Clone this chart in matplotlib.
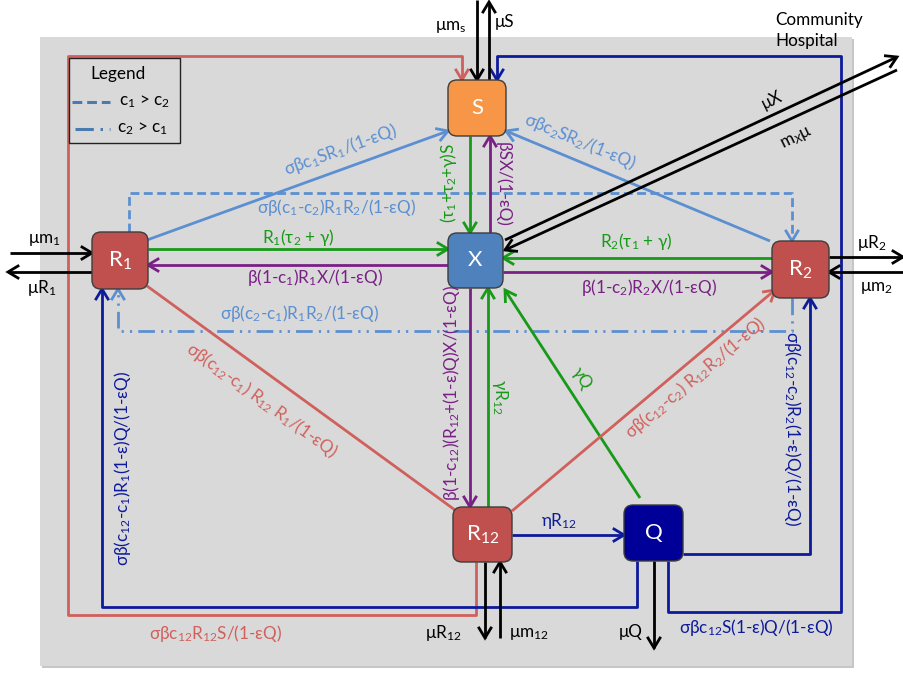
import math
import matplotlib
matplotlib.use("Agg")
import matplotlib.pyplot as plt
from matplotlib.patches import FancyBboxPatch, Rectangle

plt.rcParams['font.family'] = ['Lato', 'DejaVu Sans']
plt.rcParams['mathtext.fontset'] = 'custom'
plt.rcParams['mathtext.rm'] = 'Lato'
plt.rcParams['mathtext.it'] = 'Lato:italic'
plt.rcParams['mathtext.bf'] = 'Lato:bold'

# compartments of the model
compartments = ['S', 'X', 'R$_1$', 'R$_2$', 'R$_{12}$', 'Q']

# transition rates, grouped by colour
green_rates = ['(τ$_1$+τ$_2$+γ)S', 'R$_1$(τ$_2$ + γ)', 'R$_2$(τ$_1$ + γ)', 'γR$_{12}$', 'γQ']
purple_rates = ['βSX/(1-εQ)', 'β(1-c$_1$)R$_1$X/(1-εQ)', 'β(1-c$_2$)R$_2$X/(1-εQ)',
                'β(1-c$_{12}$)(R$_{12}$+(1-ε)Q)X/(1-εQ)']
lightblue_rates = ['σβc$_1$SR$_1$/(1-εQ)', 'σβc$_2$SR$_2$/(1-εQ)',
                   'σβ(c$_1$-c$_2$)R$_1$R$_2$/(1-εQ)', 'σβ(c$_2$-c$_1$)R$_1$R$_2$/(1-εQ)']
red_rates = ['σβ(c$_{12}$-c$_1$) R$_{12}$ R$_1$/(1-εQ)', 'σβ(c$_{12}$-c$_2$) R$_{12}$R$_2$/(1-εQ)',
             'σβc$_{12}$R$_{12}$S/(1-εQ)']
navy_rates = ['ηR$_{12}$', 'σβ(c$_{12}$-c$_1$)R$_1$(1-ε)Q/(1-εQ)',
              'σβ(c$_{12}$-c$_2$)R$_2$(1-ε)Q/(1-εQ)', 'σβc$_{12}$S(1-ε)Q/(1-εQ)']
demography = ['μm$_\\mathrm{s}$', 'μS', 'μm$_1$', 'μR$_1$', 'μR$_2$', 'μm$_2$',
              'μR$_{12}$', 'μm$_{12}$', 'μQ', 'μX', 'm$_X$μ']
legend_items = ['c$_1$ > c$_2$', 'c$_2$ > c$_1$']

GREEN = '#179a17'
PURPLE = '#7a1f86'
LBLUE = '#5b8fd2'
RED = '#d0605c'
NAVY = '#0d1a9a'
BLACK = '#000000'
FS = 12.3

fig = plt.figure(figsize=(9.04, 6.73), dpi=100)
ax = fig.add_axes([0, 0, 1, 1])
ax.set_xlim(0, 904)
ax.set_ylim(673, 0)
ax.axis('off')

# hospital panel
ax.add_patch(Rectangle((42, 39), 812, 629, fc='#c6c6c6', ec='none', zorder=0))
ax.add_patch(Rectangle((40, 37), 812, 629, fc='#d9d9d9', ec='none', zorder=0))


def head(x1, y1, x0, y0, color, lw=2.0, hl=10, hw=6):
    d = math.hypot(x1 - x0, y1 - y0)
    ux, uy = (x1 - x0) / d, (y1 - y0) / d
    bx, by = x1 - ux * hl, y1 - uy * hl
    ax.plot([bx - uy * hw, x1, bx + uy * hw], [by + ux * hw, y1, by - ux * hw],
            color=color, lw=lw, solid_joinstyle='miter', zorder=2)


def arrow(pts, color, ls='-', lw=2.0, tip=True):
    xs = [p[0] for p in pts]
    ys = [p[1] for p in pts]
    ax.plot(xs, ys, color=color, lw=lw, ls=ls, solid_capstyle='butt', zorder=2)
    if tip:
        head(xs[-1], ys[-1], xs[-2], ys[-2], color, lw=lw)


def label(x, y, s, color, size=FS, rot=0, ha='center'):
    ax.text(x, y, s, color=color, fontsize=size, rotation=rot, rotation_mode='anchor',
            ha=ha, va='center', zorder=4)


def line_angle(p0, p1):
    a = math.degrees(math.atan2(-(p1[1] - p0[1]), p1[0] - p0[0]))
    if a > 90:
        a -= 180
    if a < -90:
        a += 180
    return a


dashed = (0, (3.2, 1.6))
dashdot = (0, (6, 2.2, 0.8, 2.2, 0.8, 2.2))

# loops around the panel
arrow([(476, 562), (476, 615), (68, 615), (68, 56), (462, 56), (462, 80)], RED)
arrow([(668, 561), (668, 612), (841, 612), (841, 56), (497, 56), (497, 80)], NAVY)
arrow([(637, 561), (637, 607), (102, 607), (102, 289)], NAVY)
arrow([(683, 554), (810, 554), (810, 298)], NAVY)
arrow([(129, 232), (129, 193), (792, 193), (792, 241)], LBLUE, ls=dashed)
arrow([(792, 298), (792, 331), (118, 331), (118, 289)], LBLUE, ls=dashdot)

# green flows into X
arrow([(470, 136), (470, 233)], GREEN)
arrow([(148, 249), (448, 249)], GREEN)
arrow([(772, 258), (503, 258)], GREEN)
arrow([(488, 507), (488, 288)], GREEN)
arrow([(640, 498), (505, 290)], GREEN)

# purple flows out of X
arrow([(490, 233), (490, 136)], PURPLE)
arrow([(448, 265), (148, 265)], PURPLE)
arrow([(503, 272), (772, 272)], PURPLE)
arrow([(470, 288), (470, 507)], PURPLE)

# colonised to susceptible
r1_s = [(147, 240), (448, 131)]
r2_s = [(770, 241), (506, 131)]
arrow(r1_s, LBLUE)
arrow(r2_s, LBLUE)

# co-colonisation flows
r1_r12 = [(147, 286), (455, 510)]
r12_r2 = [(512, 511), (775, 290)]
arrow(r1_r12, RED, tip=False)
arrow(r12_r2, RED)
arrow([(512, 535), (624, 535)], NAVY)

# births, deaths, admissions, discharges
arrow([(477, 0), (477, 80)], BLACK)
arrow([(489, 80), (489, 2)], BLACK)
arrow([(10, 253), (92, 253)], BLACK)
arrow([(92, 272), (8, 272)], BLACK)
arrow([(829, 257), (903, 257)], BLACK)
arrow([(903, 272), (829, 272)], BLACK)
arrow([(485, 562), (485, 638)], BLACK)
arrow([(500, 638), (500, 562)], BLACK)
arrow([(654, 561), (654, 648)], BLACK)
arrow([(505, 240), (897, 57)], BLACK)
arrow([(897, 70), (505, 250)], BLACK)

# compartment boxes
boxes = [(448, 80, 506, 136, '#f79646'),
         (448, 233, 503, 288, '#4f81bd'),
         (92, 232, 148, 289, '#c0504d'),
         (772, 241, 829, 298, '#c0504d'),
         (453, 507, 512, 562, '#c0504d'),
         (624, 505, 683, 561, '#000099')]
for name, (x0, y0, x1, y1, fc) in zip(compartments, boxes):
    ax.add_patch(FancyBboxPatch((x0, y0), x1 - x0, y1 - y0,
                                boxstyle='round,pad=0,rounding_size=9',
                                fc=fc, ec='#3c3c3c', lw=1.0, zorder=3))
    ax.text((x0 + x1) / 2, (y0 + y1) / 2, name, color='white', fontsize=16,
            ha='center', va='center', zorder=4)

# rate labels
label(449, 183, green_rates[0], GREEN, rot=90)
label(298, 238, green_rates[1], GREEN)
label(636, 242, green_rates[2], GREEN)
label(500, 397, green_rates[3], GREEN, rot=-90)
label(582, 378, green_rates[4], GREEN, rot=-57)

label(503, 184, purple_rates[0], PURPLE, rot=-90)
label(315, 278, purple_rates[1], PURPLE)
label(649, 287, purple_rates[2], PURPLE)
label(452, 393, purple_rates[3], PURPLE, rot=90)

label(340, 150, lightblue_rates[0], LBLUE, rot=line_angle(*r1_s))
label(580, 141, lightblue_rates[1], LBLUE, rot=line_angle(*r2_s))
label(337, 207, lightblue_rates[2], LBLUE)
label(300, 314, lightblue_rates[3], LBLUE)

label(262, 400, red_rates[0], RED, rot=line_angle(*r1_r12))
label(695, 378, red_rates[1], RED, rot=line_angle(*r12_r2))
label(215, 633, red_rates[2], RED)

label(559, 521, navy_rates[0], NAVY)
label(123, 469, navy_rates[1], NAVY, rot=90)
label(793, 428, navy_rates[2], NAVY, rot=-90)
label(756, 628, navy_rates[3], NAVY)

demo_pos = [(451, 27), (505, 22), (44, 240), (42, 288), (872, 243), (876, 288),
            (443, 633), (529, 634), (631, 632)]
for s, (x, y) in zip(demography[:9], demo_pos):
    label(x, y, s, BLACK)
label(772, 100, demography[9], BLACK, rot=26)
label(797, 138, demography[10], BLACK, rot=26)

ax.text(775, 20, 'Community', fontsize=FS, ha='left', va='center', zorder=4)
ax.text(775, 41, 'Hospital', fontsize=FS, ha='left', va='center', zorder=4)

# legend box
ax.add_patch(Rectangle((69, 58), 111, 85, fc='none', ec='#222222', lw=1.0, zorder=3))
ax.text(118, 74, 'Legend', fontsize=FS, ha='center', va='center', zorder=4)
ax.plot([72, 110], [102, 102], color='#4a7bb0', lw=2.2, ls=dashed, zorder=3)
ax.plot([75, 110], [129, 129], color='#4a7bb0', lw=2.2, ls=dashdot, zorder=3)
label(119, 102, legend_items[0], BLACK, ha='left')
label(117, 129, legend_items[1], BLACK, ha='left')

fig.savefig('out.png', dpi=100)
